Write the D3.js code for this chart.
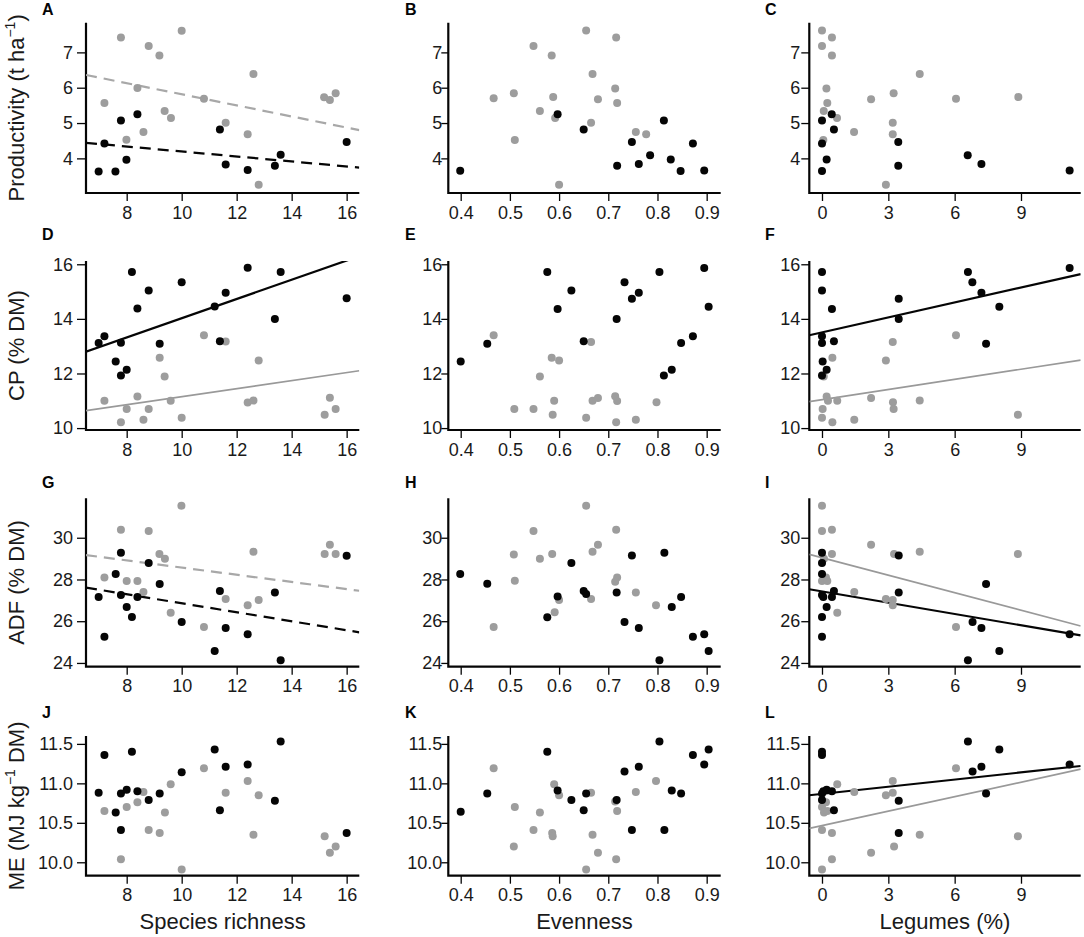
<!DOCTYPE html>
<html><head><meta charset="utf-8">
<script src="https://cdn.jsdelivr.net/npm/d3@7/dist/d3.min.js"></script>
<style>
body{margin:0;background:#fff;}
text{font-family:"Liberation Sans",Arial,sans-serif;}
</style></head>
<body>
<svg id="chart" width="1084" height="937"></svg>
<script>
// ---------------- DATA ----------------
const xTicksRichness = [8,10,12,14,16];
const xTicksEvenness = [0.4,0.5,0.6,0.7,0.8,0.9];
const xTicksLegumes = [0,3,6,9];
const yTicksProd = [4,5,6,7];
const yTicksCP = [10,12,14,16];
const yTicksADF = [24,26,28,30];
const yTicksME = [10.0,10.5,11.0,11.5];
const xTitles = ["Species richness","Evenness","Legumes (%)"];
const panelLetters = ["A","B","C","D","E","F","G","H","I","J","K","L"];

const A_gray=[[7.79,7.42],[10.0,7.61],[8.8,7.18],[9.19,6.91],[7.19,5.57],[8.39,5.99],[9.38,5.34],[9.61,5.14],[8.61,4.75],[7.99,4.53],[10.81,5.69],[11.6,5.01],[12.4,4.68],[12.61,6.39],[12.8,3.25],[15.18,5.73],[15.39,5.65],[15.6,5.84]];
const A_black=[[6.98,3.63],[7.19,4.42],[7.59,3.63],[7.79,5.07],[7.99,3.96],[8.39,5.25],[11.39,4.82],[11.6,3.83],[12.4,3.67],[13.39,3.79],[13.6,4.1],[16.0,4.46]];
const B_gray=[[0.655,7.62],[0.716,7.42],[0.548,7.18],[0.585,6.91],[0.668,6.39],[0.714,5.98],[0.467,5.70],[0.508,5.84],[0.588,5.74],[0.679,5.67],[0.718,5.57],[0.561,5.34],[0.592,5.14],[0.665,5.01],[0.51,4.52],[0.756,4.75],[0.777,4.68],[0.60,3.25]];
const B_black=[[0.399,3.65],[0.597,5.25],[0.65,4.82],[0.718,3.79],[0.748,4.46],[0.762,3.84],[0.785,4.09],[0.813,5.07],[0.827,3.97],[0.847,3.64],[0.872,4.42],[0.895,3.66]];
const C_gray=[[0,7.62],[0.45,7.42],[0,7.18],[0.45,6.91],[0.2,5.98],[0.24,5.57],[0.08,5.34],[0.68,5.14],[0.06,4.52],[1.45,4.75],[2.22,5.67],[3.24,5.84],[3.2,5.01],[3.2,4.68],[4.42,6.39],[6.06,5.69],[8.88,5.74],[2.89,3.25]];
const C_black=[[0,5.07],[0,4.42],[0,3.64],[0.21,3.97],[0.44,5.25],[0.54,4.82],[3.45,4.46],[3.45,3.79],[6.59,4.09],[7.21,3.84],[11.2,3.66]];
const D_gray=[[7.19,11.0],[8.0,10.7],[7.79,10.21],[8.39,11.16],[8.61,10.31],[8.8,10.7],[9.2,12.58],[9.38,11.89],[9.6,11.0],[10.0,10.38],[10.81,13.4],[11.6,13.17],[12.4,10.94],[12.61,11.01],[12.8,12.48],[15.2,10.49],[15.39,11.11],[15.6,10.7]];
const D_black=[[6.98,13.12],[7.19,13.36],[7.6,12.44],[7.79,13.13],[7.79,11.93],[8.0,12.14],[8.19,15.72],[8.39,14.38],[8.8,15.04],[9.2,13.09],[10.0,15.34],[11.2,14.45],[11.39,13.18],[11.6,14.96],[12.4,15.87],[13.39,14.0],[13.6,15.72],[16.0,14.76]];
const E_gray=[[0.467,13.4],[0.665,13.15],[0.585,12.58],[0.60,12.48],[0.561,11.89],[0.509,10.7],[0.548,10.7],[0.59,11.0],[0.587,10.49],[0.655,10.38],[0.668,11.0],[0.679,11.1],[0.714,11.17],[0.718,10.99],[0.716,10.21],[0.756,10.31],[0.798,10.95]];
const E_black=[[0.4,12.44],[0.454,13.09],[0.576,15.72],[0.597,14.36],[0.625,15.04],[0.65,13.18],[0.717,14.0],[0.733,15.34],[0.748,14.74],[0.762,14.96],[0.804,15.72],[0.813,11.93],[0.829,12.14],[0.848,13.12],[0.872,13.36],[0.895,15.86],[0.904,14.44]];
const F_gray=[[0.08,11.89],[0.47,12.58],[0.21,11.16],[0.27,11.0],[0.69,11.0],[0.03,10.7],[0,10.38],[0.47,10.21],[1.46,10.31],[2.22,11.1],[2.89,12.48],[3.2,13.15],[3.21,10.95],[3.24,10.7],[4.42,11.01],[6.06,13.4],[8.86,10.49]];
const F_black=[[0,15.72],[0,15.04],[0.45,14.36],[0,13.36],[0,13.12],[0.54,13.18],[0.03,12.44],[0.21,12.14],[0,11.93],[3.47,14.74],[3.47,14.0],[6.6,15.72],[6.8,15.34],[7.21,14.96],[8.02,14.44],[7.42,13.09],[11.2,15.86]];
const G_gray=[[9.99,31.53],[7.79,30.38],[8.8,30.32],[9.19,29.22],[9.39,28.99],[7.19,28.09],[8.0,27.93],[8.39,27.93],[8.61,27.4],[9.6,26.41],[10.81,25.72],[11.6,27.06],[12.4,26.76],[12.8,27.02],[12.61,29.33],[15.2,29.22],[15.39,29.66],[15.6,29.22]];
const G_black=[[6.98,27.16],[7.19,25.26],[7.6,28.26],[7.79,29.28],[7.79,27.26],[8.0,26.68],[8.19,26.2],[8.39,27.16],[8.8,28.79],[9.2,27.78],[10.0,25.96],[11.2,24.57],[11.39,27.45],[11.6,25.68],[12.4,25.37],[13.39,27.37],[13.6,24.13],[16.0,29.14]];
const H_gray=[[0.655,31.53],[0.716,30.38],[0.548,30.32],[0.508,29.2],[0.586,29.22],[0.561,28.99],[0.679,29.66],[0.668,29.33],[0.51,27.94],[0.718,28.1],[0.714,27.89],[0.60,27.02],[0.591,26.43],[0.665,27.06],[0.756,27.38],[0.797,26.76],[0.467,25.72]];
const H_black=[[0.399,28.26],[0.454,27.8],[0.576,26.19],[0.597,27.18],[0.625,28.79],[0.65,27.45],[0.655,27.3],[0.717,27.37],[0.733,25.96],[0.748,29.15],[0.762,25.68],[0.814,29.28],[0.829,26.68],[0.848,27.16],[0.872,25.26],[0.895,25.37],[0.904,24.57],[0.804,24.13]];
const I_gray=[[0,31.53],[0,30.32],[0.45,30.38],[0.45,29.22],[0.09,28.99],[0,27.93],[0.18,28.1],[0.24,27.93],[1.46,27.4],[2.22,29.66],[0.69,26.41],[2.89,27.06],[3.2,27.02],[3.2,26.76],[3.26,29.22],[4.42,29.33],[6.06,25.72],[8.86,29.22]];
const I_black=[[0,29.28],[0,28.79],[0,28.26],[0,27.26],[0.06,27.16],[0,26.2],[0,25.26],[0.21,26.68],[0.45,27.16],[0.54,27.45],[3.47,29.15],[3.47,27.37],[6.81,25.96],[7.21,25.68],[7.42,27.78],[6.6,24.13],[8.02,24.57],[11.2,25.37]];
const J_gray=[[7.19,10.65],[7.79,10.04],[8.0,10.7],[8.39,10.76],[8.61,10.89],[8.8,10.41],[9.2,10.37],[9.39,10.63],[9.6,10.99],[10.0,9.91],[10.81,11.19],[11.6,10.88],[12.4,11.03],[12.8,10.85],[12.61,10.35],[15.2,10.33],[15.39,10.12],[15.6,10.2]];
const J_black=[[6.98,10.88],[7.19,11.36],[7.6,10.63],[7.79,10.87],[7.79,10.41],[8.0,10.92],[8.19,11.40],[8.39,10.9],[8.8,10.79],[9.2,10.87],[10.0,11.14],[11.2,11.43],[11.39,10.66],[11.6,11.21],[12.4,11.24],[13.39,10.78],[13.6,11.53],[16.0,10.37]];
const K_gray=[[0.467,11.19],[0.51,10.7],[0.508,10.2],[0.548,10.41],[0.561,10.63],[0.59,10.99],[0.60,10.85],[0.586,10.37],[0.587,10.33],[0.665,10.88],[0.668,10.35],[0.679,10.12],[0.655,9.91],[0.714,10.77],[0.718,10.65],[0.716,10.04],[0.756,10.89],[0.797,11.03]];
const K_black=[[0.4,10.64],[0.454,10.87],[0.576,11.4],[0.597,10.91],[0.625,10.79],[0.65,10.66],[0.655,10.87],[0.717,10.79],[0.733,11.15],[0.748,10.41],[0.762,11.21],[0.804,11.53],[0.814,10.41],[0.829,10.91],[0.848,10.87],[0.872,11.36],[0.895,11.24],[0.904,11.43]];
const L_gray=[[0,9.91],[0,10.41],[0,10.7],[0.09,10.63],[0.18,10.76],[0.24,10.65],[0.45,10.37],[0.45,10.04],[0.69,10.99],[1.46,10.89],[2.22,10.12],[2.89,10.85],[3.2,10.88],[3.2,11.03],[3.26,10.2],[4.42,10.35],[6.06,11.19],[8.86,10.33]];
const L_black=[[0,11.4],[0,11.36],[0,10.87],[0,10.79],[0.06,10.9],[0.21,10.92],[0.45,10.9],[0.54,10.66],[3.47,10.78],[3.47,10.37],[6.6,11.53],[6.81,11.15],[7.21,11.21],[7.42,10.87],[8.02,11.43],[11.2,11.24]];

// fitted lines: [intercept, slope]
const A_fitGray=[7.384,-0.157], A_fitBlack=[4.90,-0.0705];
const D_fitGray=[9.68,0.147], D_fitBlack=[10.505,0.352];
const F_fitGray=[11.04,0.1239], F_fitBlack=[13.504,0.1826];
const G_fitGray=[30.293,-0.1722], G_fitBlack=[29.015,-0.2155];
const I_fitGray=[29.04,-0.2795], I_fitBlack=[27.427,-0.1801];
const L_fitGray=[10.465,0.0611], L_fitBlack=[10.867,0.03015];

// ---------------- LAYOUT ----------------
const cols=[
 {x0:86,x1:359.3,dom:[6.52,16.46],ticks:xTicksRichness,fmt:d3.format("d"),gap:13,tick:9},
 {x0:448.3,x1:720.7,dom:[0.3748,0.9285],ticks:xTicksEvenness,fmt:d3.format(".1f"),gap:6,tick:7},
 {x0:809.3,x1:1080.7,dom:[-0.574,11.70],ticks:xTicksLegumes,fmt:d3.format("d"),gap:9,tick:8}
];
const rows=[
 {y0:22.7,y1:193,dom:[3.02,7.84],ticks:yTicksProd,fmt:d3.format("d"),letterY:15,title:["Productivity (t ha","−1",")"]},
 {y0:261,y1:430,dom:[9.93,16.12],ticks:yTicksCP,fmt:d3.format("d"),letterY:240,title:["CP (% DM)"]},
 {y0:498.3,y1:666.7,dom:[23.82,31.89],ticks:yTicksADF,fmt:d3.format("d"),letterY:488,title:["ADF (% DM)"]},
 {y0:736,y1:875.7,dom:[9.83,11.60],ticks:yTicksME,fmt:d3.format(".1f"),letterY:718,title:["ME (MJ kg","−1"," DM)"]}
];
const letterX=[42,405,765];
const panels=[
 {g:A_gray,b:A_black,fg:A_fitGray,fb:A_fitBlack,dash:true},
 {g:B_gray,b:B_black},
 {g:C_gray,b:C_black},
 {g:D_gray,b:D_black,fg:D_fitGray,fb:D_fitBlack},
 {g:E_gray,b:E_black},
 {g:F_gray,b:F_black,fg:F_fitGray,fb:F_fitBlack},
 {g:G_gray,b:G_black,fg:G_fitGray,fb:G_fitBlack,dash:true},
 {g:H_gray,b:H_black},
 {g:I_gray,b:I_black,fg:I_fitGray,fb:I_fitBlack},
 {g:J_gray,b:J_black},
 {g:K_gray,b:K_black},
 {g:L_gray,b:L_black,fg:L_fitGray,fb:L_fitBlack}
];
const GRAY="#9d9d9d", BLACK="#050505", TXT="#1a1a1a";

const svg=d3.select("#chart");
const defs=svg.append("defs");

panels.forEach((p,i)=>{
  const r=rows[Math.floor(i/3)], c=cols[i%3];
  const x=d3.scaleLinear().domain(c.dom).range([c.x0,c.x1]);
  const y=d3.scaleLinear().domain(r.dom).range([r.y1,r.y0]);
  const g=svg.append("g");
  const cid="clip"+i;
  defs.append("clipPath").attr("id",cid).append("rect")
    .attr("x",c.x0).attr("y",r.y0).attr("width",c.x1-c.x0).attr("height",r.y1-r.y0);

  // axes
  const ax=g.append("g").attr("transform",`translate(0,${r.y1})`)
    .call(d3.axisBottom(x).tickValues(c.ticks).tickFormat(c.fmt).tickSize(8).tickPadding(5));
  const ay=g.append("g").attr("transform",`translate(${c.x0},0)`)
    .call(d3.axisLeft(y).tickValues(r.ticks).tickFormat(r.fmt).tickSize(c.tick).tickPadding(c.gap-c.tick));
  [ax,ay].forEach(a=>{
    a.select(".domain").remove();
    a.selectAll(".tick line").attr("stroke",BLACK).attr("stroke-width",1.3);
    a.selectAll(".tick text").attr("font-size",18).attr("fill",TXT)
      .attr("font-family",'"Liberation Sans",Arial,sans-serif');
  });
  g.append("path").attr("d",`M${c.x0},${r.y0}V${r.y1}H${c.x1}`)
    .attr("fill","none").attr("stroke",BLACK).attr("stroke-width",2.2);

  // fit lines
  const lg=g.append("g").attr("clip-path",`url(#${cid})`);
  const line=(f,col,w)=>{
    lg.append("line")
      .attr("x1",x(c.dom[0])).attr("y1",y(f[0]+f[1]*c.dom[0]))
      .attr("x2",x(c.dom[1])).attr("y2",y(f[0]+f[1]*c.dom[1]))
      .attr("stroke",col).attr("stroke-width",w)
      .attr("stroke-dasharray",p.dash?"11,7":null);
  };
  if(p.fg) line(p.fg,p.dash?"#a8a8a8":"#999",p.dash?2.2:1.7);
  if(p.fb) line(p.fb,BLACK,2.2);

  // points
  g.append("g").selectAll("circle").data(p.g).join("circle")
    .attr("cx",d=>x(d[0])).attr("cy",d=>y(d[1])).attr("r",4).attr("fill",GRAY);
  g.append("g").selectAll("circle").data(p.b).join("circle")
    .attr("cx",d=>x(d[0])).attr("cy",d=>y(d[1])).attr("r",4).attr("fill",BLACK);

  // letter
  svg.append("text").attr("x",letterX[i%3]).attr("y",r.letterY)
    .attr("font-size",16).attr("font-weight","bold").attr("fill",BLACK).text(panelLetters[i]);
});

// y titles
rows.forEach(r=>{
  const cy=(r.y0+r.y1)/2;
  const t=svg.append("text").attr("transform",`translate(24,${cy}) rotate(-90)`)
    .attr("text-anchor","middle").attr("font-size",22).attr("fill",TXT);
  if(r.title.length===1) t.text(r.title[0]);
  else{
    t.append("tspan").text(r.title[0]);
    t.append("tspan").attr("font-size",14).attr("dy","-0.65em").text(r.title[1]);
    t.append("tspan").attr("dy","0.42em").text(r.title[2]);
  }
});
// x titles
cols.forEach((c,j)=>{
  svg.append("text").attr("x",(c.x0+c.x1)/2).attr("y",929).attr("text-anchor","middle")
    .attr("font-size",22).attr("fill",TXT).text(xTitles[j]);
});
</script>
</body></html>
